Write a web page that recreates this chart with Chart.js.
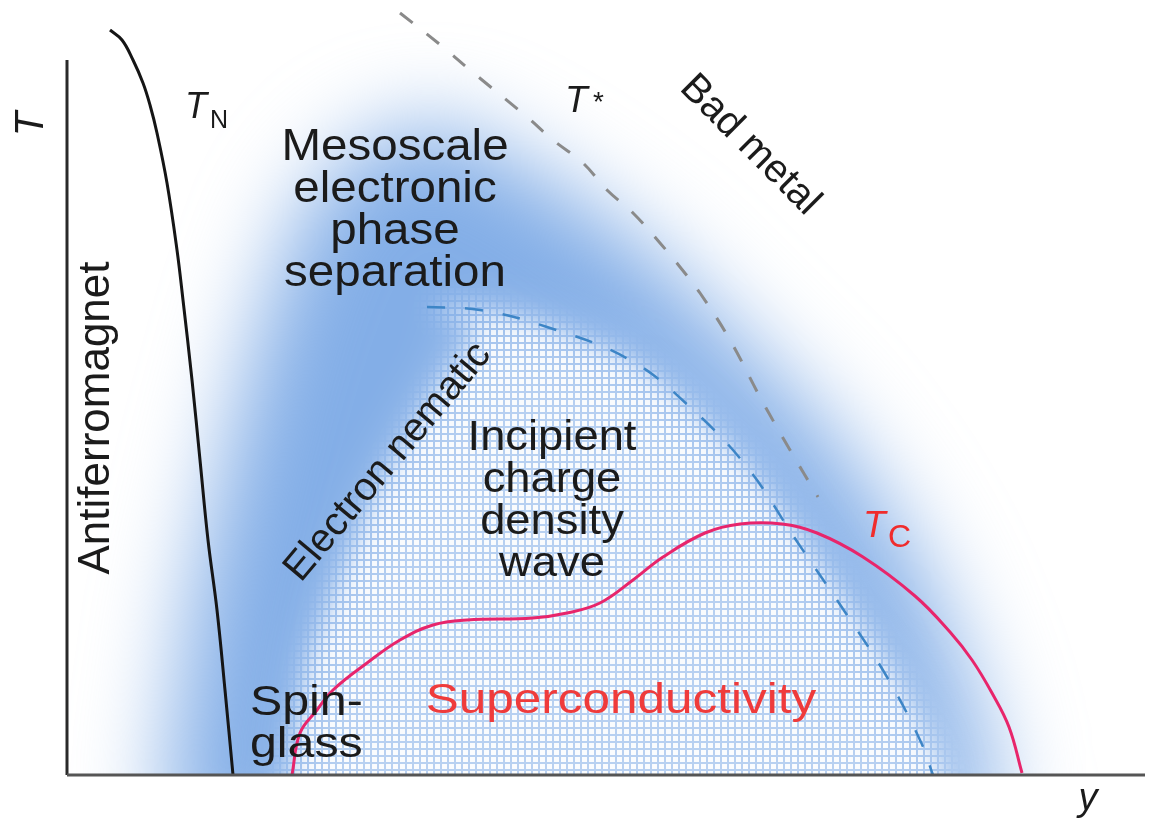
<!DOCTYPE html>
<html>
<head>
<meta charset="utf-8">
<title>Cuprate phase diagram</title>
<script src="https://cdn.jsdelivr.net/npm/chart.js@4.4.0/dist/chart.umd.min.js"></script>
<style>
  html, body { margin: 0; padding: 0; background: #fff; }
  #wrap { width: 1149px; height: 820px; }
</style>
</head>
<body>
<div id="wrap"><canvas id="phase" width="1149" height="820"></canvas></div>
<script>
// Phase diagram — doping (y) vs temperature (T), arbitrary units
// x: 0..1078 along the doping axis, y: 0..770 up the temperature axis

// ── CURVES ────────────────────────────────────────────────────────
// Néel temperature T_N
const tnX = [43, 55, 66, 76, 83, 90, 100, 110, 116, 125, 133, 141, 150, 158, 166];
const tnY = [745, 735, 715, 692, 670, 642, 592, 525, 475, 395, 315, 235, 165, 85, 0];

// pseudogap crossover T*
const tStarX = [333, 376, 403, 460, 486, 516, 540, 566, 593, 613, 633, 663, 693, 723, 751];
const tStarY = [762, 728, 705, 658, 635, 612, 585, 562, 532, 508, 482, 435, 378, 325, 278];

// electron nematic boundary
const nemX = [360, 413, 480, 563, 623, 680, 729, 780, 820, 853, 866];
const nemY = [468, 465, 448, 415, 368, 308, 235, 160, 98, 35, 0];

// superconducting dome T_c
const tcX = [225, 233, 250, 266, 300, 333, 366, 400, 466, 500, 533, 566, 596, 638, 673, 715, 750, 796, 848, 883, 905, 925, 942, 955];
const tcY = [0, 42, 65, 85, 112, 135, 150, 155, 157, 162, 172, 195, 218, 242, 251, 251, 242, 218, 179, 143, 115, 82, 48, 2];

// ── SHADED REGIONS ────────────────────────────────────────────────
// mesoscale phase separation glow
const glowX = [100, 125, 160, 195, 235, 288, 363, 433, 513, 593, 673, 753, 813, 860, 900, 925, 925, 100];
const glowY = [0, 175, 325, 455, 565, 625, 655, 625, 575, 515, 435, 355, 275, 195, 95, 0, -80, -80];

// incipient charge density wave (checked area)
const domeX = [360, 413, 480, 563, 623, 680, 735, 787, 828, 862, 876, 876, 223, 223, 243, 273, 306, 363, 413];
const domeY = [468, 465, 448, 415, 368, 308, 235, 160, 98, 35, 0, -80, -80, 0, 115, 195, 275, 375, 445];

const pts = (xs, ys) => xs.map((x, i) => ({ x, y: ys[i] }));

// ── HELPERS ───────────────────────────────────────────────────────
function tracePath(c, chart, xs, ys) {
  const sx = chart.scales.x, sy = chart.scales.y;
  c.beginPath();
  xs.forEach((v, i) => {
    const px = sx.getPixelForValue(v), py = sy.getPixelForValue(ys[i]);
    if (i) c.lineTo(px, py); else c.moveTo(px, py);
  });
  c.closePath();
}

const SANS = '"Liberation Sans", Arial, Helvetica, sans-serif';

function label(chart, text, x, y, o) {
  const ctx = chart.ctx;
  const px = chart.scales.x.getPixelForValue(x), py = chart.scales.y.getPixelForValue(y);
  ctx.save();
  ctx.translate(px, py);
  if (o.stretch) ctx.scale(o.stretch, 1);
  if (o.angle) ctx.rotate(o.angle * Math.PI / 180);
  ctx.font = o.font;
  ctx.fillStyle = o.color || '#1b1b1b';
  ctx.textAlign = o.align || 'center';
  ctx.textBaseline = o.base || 'alphabetic';
  ctx.fillText(text, 0, 0);
  ctx.restore();
}

// ── PLUGINS ───────────────────────────────────────────────────────
const background = {
  id: 'phaseBackground',
  beforeDatasetsDraw(chart) {
    const { ctx, chartArea: a } = chart;
    ctx.save();
    ctx.beginPath();
    ctx.rect(a.left, 0, a.right - a.left, a.bottom);
    ctx.clip();

    ctx.filter = 'blur(45px)';
    tracePath(ctx, chart, glowX, glowY);
    ctx.fillStyle = '#83aee7';
    ctx.fill();

    ctx.filter = 'blur(30px)';
    tracePath(ctx, chart, domeX, domeY);
    ctx.fillStyle = 'rgba(255,255,255,0.42)';
    ctx.fill();
    ctx.filter = 'none';

    // white squares -> blue checked grid
    const tile = document.createElement('canvas');
    tile.width = tile.height = 7;
    const t = tile.getContext('2d');
    t.fillStyle = '#fff';
    t.fillRect(1, 1, 5, 5);

    const off = document.createElement('canvas');
    off.width = chart.width; off.height = chart.height;
    const o = off.getContext('2d');
    o.fillStyle = o.createPattern(tile, 'repeat');
    o.fillRect(0, 0, off.width, off.height);
    o.globalCompositeOperation = 'destination-in';
    o.filter = 'blur(12px)';
    tracePath(o, chart, domeX, domeY);
    o.fillStyle = '#000';
    o.fill();

    ctx.globalAlpha = 0.92;
    ctx.drawImage(off, 0, 0);
    ctx.restore();
  }
};

const annotations = {
  id: 'phaseLabels',
  afterDatasetsDraw(chart) {
    const { ctx } = chart;
    const sx = chart.scales.x, sy = chart.scales.y;

    // axes
    ctx.save();
    ctx.lineCap = 'butt';
    ctx.strokeStyle = '#2a2a2a';
    ctx.lineWidth = 3;
    ctx.beginPath();
    ctx.moveTo(sx.getPixelForValue(0), sy.getPixelForValue(715));
    ctx.lineTo(sx.getPixelForValue(0), sy.getPixelForValue(0));
    ctx.stroke();
    ctx.strokeStyle = '#555';
    ctx.beginPath();
    ctx.moveTo(sx.getPixelForValue(0), sy.getPixelForValue(0));
    ctx.lineTo(sx.getPixelForValue(1078), sy.getPixelForValue(0));
    ctx.stroke();
    ctx.restore();

    const big = '44px ' + SANS, mid = '42px ' + SANS;
    ['Mesoscale', 'electronic', 'phase', 'separation'].forEach((s, i) =>
      label(chart, s, 328, 615 - i * 42, { font: big, stretch: 1.08 }));
    ['Incipient', 'charge', 'density', 'wave'].forEach((s, i) =>
      label(chart, s, 485, 325 - i * 42, { font: mid, stretch: 1.08 }));
    label(chart, 'Spin-', 183, 60, { font: mid, align: 'left', stretch: 1.15 });
    label(chart, 'glass', 183, 18, { font: mid, align: 'left', stretch: 1.15 });
    label(chart, 'Superconductivity', 554, 62, { font: '43px ' + SANS, color: '#ef3b3b', stretch: 1.15 });
    label(chart, 'Electron nematic', 321, 313, { font: '40px ' + SANS, angle: -50, base: 'middle' });
    label(chart, 'Bad metal', 683, 630, { font: '40px ' + SANS, angle: 45, base: 'middle' });
    label(chart, 'Antiferromagnet', 30, 357, { font: '44px ' + SANS, angle: -90, base: 'middle' });

    // symbols
    const it = (n) => 'italic ' + n + 'px ' + SANS;
    label(chart, 'T', -35, 651, { font: it(40), angle: -90, base: 'middle' });
    label(chart, 'y', 1021, -35, { font: it(38) });
    label(chart, 'T', 118, 657, { font: it(36), align: 'left' });
    label(chart, 'N', 143, 647, { font: '25px ' + SANS, align: 'left' });
    label(chart, 'T', 498, 663, { font: it(37), align: 'left' });
    label(chart, '*', 526, 664, { font: '28px ' + SANS, align: 'left' });
    label(chart, 'T', 796, 238, { font: it(37), align: 'left', color: '#f02c2c' });
    label(chart, 'C', 821, 228, { font: '32px ' + SANS, align: 'left', color: '#f02c2c' });
  }
};

// ── CHART ─────────────────────────────────────────────────────────
const line = (data, color, width, dash) => ({
  data, borderColor: color, borderWidth: width, borderDash: dash || [],
  pointRadius: 0, fill: false, tension: 0.4
});

new Chart(document.getElementById('phase'), {
  type: 'line',
  data: {
    datasets: [
      line(pts(tnX, tnY), '#151515', 3),
      line(pts(tStarX, tStarY), '#8a8a8a', 3, [16, 18]),
      line(pts(nemX, nemY), '#3d85c6', 2.5, [18, 20]),
      line(pts(tcX, tcY), '#e8256b', 3)
    ]
  },
  options: {
    responsive: false,
    animation: false,
    layout: { padding: { left: 67, right: 4, top: 5, bottom: 45 } },
    plugins: { legend: { display: false }, tooltip: { enabled: false } },
    scales: {
      x: { type: 'linear', min: 0, max: 1078, display: false },
      y: { type: 'linear', min: 0, max: 770, display: false }
    }
  },
  plugins: [background, annotations]
});
</script>
</body>
</html>
